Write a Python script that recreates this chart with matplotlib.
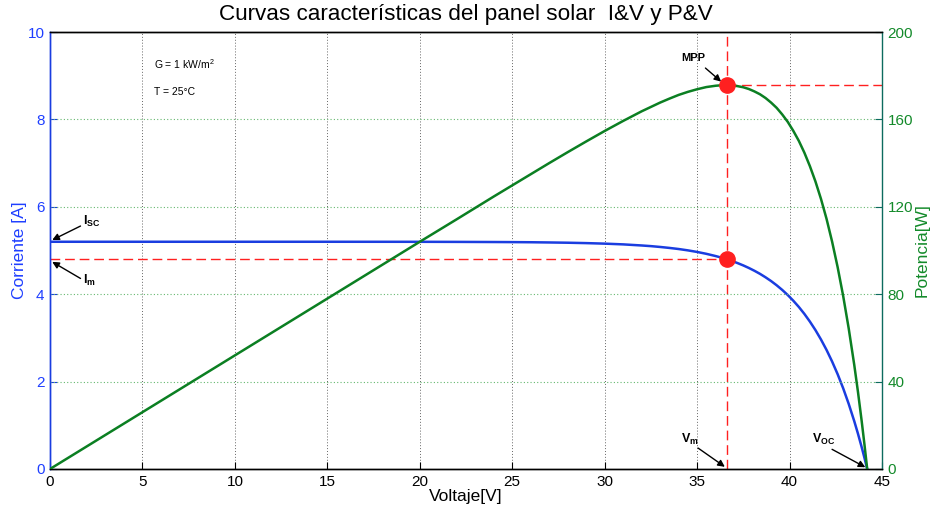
import matplotlib
matplotlib.use("Agg")
import matplotlib.pyplot as plt

plt.rcParams['font.family'] = ['Liberation Sans', 'DejaVu Sans']
plt.rcParams['mathtext.fontset'] = 'custom'
plt.rcParams['mathtext.rm'] = 'Liberation Sans'
plt.rcParams['mathtext.it'] = 'Liberation Sans'
plt.rcParams['mathtext.bf'] = 'Liberation Sans:bold'

# Panel measurements: voltage [V], current [A], power [W]
voltage = [0, 5, 10, 15, 20, 22, 24, 25, 26, 27, 28, 29, 30, 31, 32, 32.5, 33,
           33.5, 34, 34.5, 35, 35.5, 36, 36.3, 36.6, 36.9, 37.2, 37.5, 37.8,
           38.1, 38.4, 38.7, 39.0, 39.3, 39.6, 39.9, 40.2, 40.5, 40.8, 41.1,
           41.4, 41.7, 42.0, 42.3, 42.6, 42.9, 43.2, 43.5, 43.7, 43.9, 44.05,
           44.2]
current = [5.20, 5.20, 5.20, 5.20, 5.199, 5.197, 5.194, 5.192, 5.189, 5.184,
           5.178, 5.169, 5.157, 5.14, 5.115, 5.10, 5.081, 5.059, 5.034, 5.003,
           4.967, 4.924, 4.873, 4.839, 4.80, 4.758, 4.71, 4.658, 4.60, 4.536,
           4.466, 4.387, 4.301, 4.205, 4.099, 3.982, 3.852, 3.709, 3.55, 3.373,
           3.179, 2.963, 2.725, 2.461, 2.17, 1.847, 1.489, 1.094, 0.808, 0.501,
           0.257, 0.0]
power = [0.0, 26.0, 52.0, 78.0, 104.0, 114.3, 124.7, 129.8, 134.9, 140.0,
         145.0, 149.9, 154.7, 159.3, 163.7, 165.7, 167.7, 169.5, 171.2, 172.6,
         173.8, 174.8, 175.4, 175.6, 175.7, 175.6, 175.2, 174.7, 173.9, 172.8,
         171.5, 169.8, 167.7, 165.3, 162.3, 158.9, 154.8, 150.2, 144.8, 138.6,
         131.6, 123.6, 114.5, 104.1, 92.4, 79.2, 64.3, 47.6, 35.3, 22.0, 11.3,
         0.0]

v_mpp, i_mpp, p_mpp = 36.6, 4.80, 175.7

x_ticks = [0, 5, 10, 15, 20, 25, 30, 35, 40, 45]
i_ticks = [0, 2, 4, 6, 8, 10]
p_ticks = [0, 40, 80, 120, 160, 200]

blue = '#1a3de0'
green = '#0b7f22'
label_blue = '#1f3fff'
label_green = '#138a2a'
red = '#ff2020'
dash = (0, (7, 3.5))

fig = plt.figure(figsize=(9.3, 5.12), dpi=100)
ax = fig.add_axes([50/930, 1-469/512, 832/930, 437/512])
ax2 = ax.twinx()

ax.set_xlim(0, 45)
ax.set_ylim(0, 10)
ax2.set_ylim(0, 200)

# grid: vertical grey dotted, horizontal green dotted
for xv in x_ticks[1:-1]:
    ax.axvline(xv, color='#666666', ls=(0, (1, 2)), lw=0.7, zorder=0)
for pv in p_ticks[1:]:
    ax2.axhline(pv, color='#66b870', ls=(0, (1, 2)), lw=0.8, zorder=0)

# reference lines at the maximum power point
ax.plot([0, v_mpp], [i_mpp, i_mpp], color=red, ls=dash, lw=1.0, zorder=2)
ax.plot([v_mpp, v_mpp], [0, 10], color=red, ls=dash, lw=1.0, zorder=2)
ax2.plot([v_mpp, 45], [p_mpp, p_mpp], color=red, ls=dash, lw=1.0, zorder=2)

ax.plot(voltage, current, color=blue, lw=1.8, zorder=3)
ax2.plot(voltage, power, color=green, lw=1.8, zorder=3)

ax.plot([v_mpp], [i_mpp], 'o', color=red, ms=11, zorder=5)
ax2.plot([v_mpp], [p_mpp], 'o', color=red, ms=11, zorder=5)

# ticks and spines
ax.set_xticks(x_ticks)
ax.set_yticks(i_ticks)
ax2.set_yticks(p_ticks)
ax.tick_params(axis='x', direction='in', length=5, labelsize=11, colors='black', pad=4)
ax.tick_params(axis='y', direction='in', length=5, labelsize=11, colors=blue,
               labelcolor=label_blue, pad=4)
ax2.tick_params(axis='y', direction='in', length=5, labelsize=11, colors='#0d6b5f',
                labelcolor=label_green, pad=4)
ax.spines['left'].set_color(blue)
ax2.spines['left'].set_color(blue)
ax2.spines['right'].set_color('#0d6b5f')
ax.spines['right'].set_visible(False)
for a in (ax, ax2):
    a.spines['top'].set_color('black')
    a.spines['bottom'].set_color('black')
for sp in list(ax.spines.values()) + list(ax2.spines.values()):
    sp.set_linewidth(1.0)

ax.set_xlabel('Voltaje[V]', fontsize=12.5, labelpad=0)
ax.set_ylabel('Corriente [A]', fontsize=12.5, color=label_blue, labelpad=0.5)
ax2.set_ylabel('Potencia[W]', fontsize=12.5, color=label_green, labelpad=1)
ax.set_title('Curvas características del panel solar  I&V y P&V', fontsize=16.2, pad=8.5)

ax.text(5.6, 9.27, 'G = 1 kW/m$^2$', fontsize=7.5, va='center')
ax.text(5.6, 8.63, 'T = 25°C', fontsize=7.5, va='center')

arrow = dict(arrowstyle='-|>', color='black', lw=1.0, mutation_scale=10,
             shrinkA=0, shrinkB=0)
ax2.annotate('', xy=(36.3, 177.3), xytext=(35.45, 183.5), arrowprops=arrow)
ax2.text(34.8, 186.0, 'MPP', fontsize=8, fontweight='bold', ha='center', va='bottom')

ax.annotate('', xy=(36.5, 0.05), xytext=(35.05, 0.48), arrowprops=arrow)
ax.text(34.6, 0.5, r'$\mathbf{V_m}$', fontsize=9, ha='center', va='bottom')

ax.annotate('', xy=(44.1, 0.04), xytext=(42.3, 0.45), arrowprops=arrow)
ax.text(41.2, 0.5, r'$\mathbf{V_{OC}}$', fontsize=9, ha='left', va='bottom')

ax.annotate('', xy=(0.12, 5.24), xytext=(1.65, 5.56), arrowprops=arrow)
ax.text(1.8, 5.5, r'$\mathbf{I_{SC}}$', fontsize=9, ha='left', va='bottom')

ax.annotate('', xy=(0.12, 4.74), xytext=(1.65, 4.36), arrowprops=arrow)
ax.text(1.8, 4.15, r'$\mathbf{I_m}$', fontsize=9, ha='left', va='bottom')

fig.savefig('out.png', dpi=100)
